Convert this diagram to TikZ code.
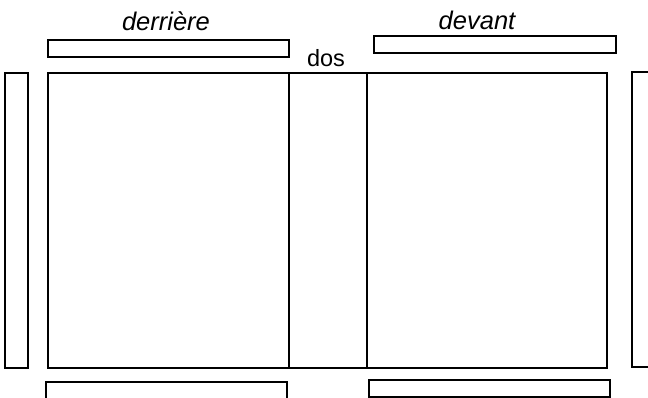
\documentclass[tikz,border=0pt]{standalone}
\usepackage{fontspec}
\setmainfont{Liberation Sans}
\begin{document}
\begin{tikzpicture}[x=1pt,y=-1pt,
  box/.style={draw=black,line width=1.4pt},
  lbl/.style={anchor=base,inner sep=0pt},
  ital/.style={lbl,font=\fontsize{25.5}{30}\selectfont\itshape},
  upright/.style={lbl,font=\fontsize{23.5}{28}\selectfont}]
\useasboundingbox (0,0) rectangle (648,398);
\clip (0,0) rectangle (648,398);
% top strips
\draw[box] (48,40) rectangle (289,57);
\draw[box] (374,36) rectangle (616,53);
% main body
\draw[box] (48,73) rectangle (607,368);
\draw[box] (289,73) -- (289,368);
\draw[box] (367,73) -- (367,368);
% side strips
\draw[box] (5,73) rectangle (28,368);
\draw[box] (632,72) rectangle (660,367);
% bottom strips
\draw[box] (46,382) rectangle (287,410);
\draw[box] (369,380) rectangle (610,397);
% labels
\node[ital] (derriere) at (166,31) {derrière};
\node[ital] (devant) at (477,30) {devant};
\node[upright] (dos) at (326,67) {dos};
\end{tikzpicture}
\end{document}
